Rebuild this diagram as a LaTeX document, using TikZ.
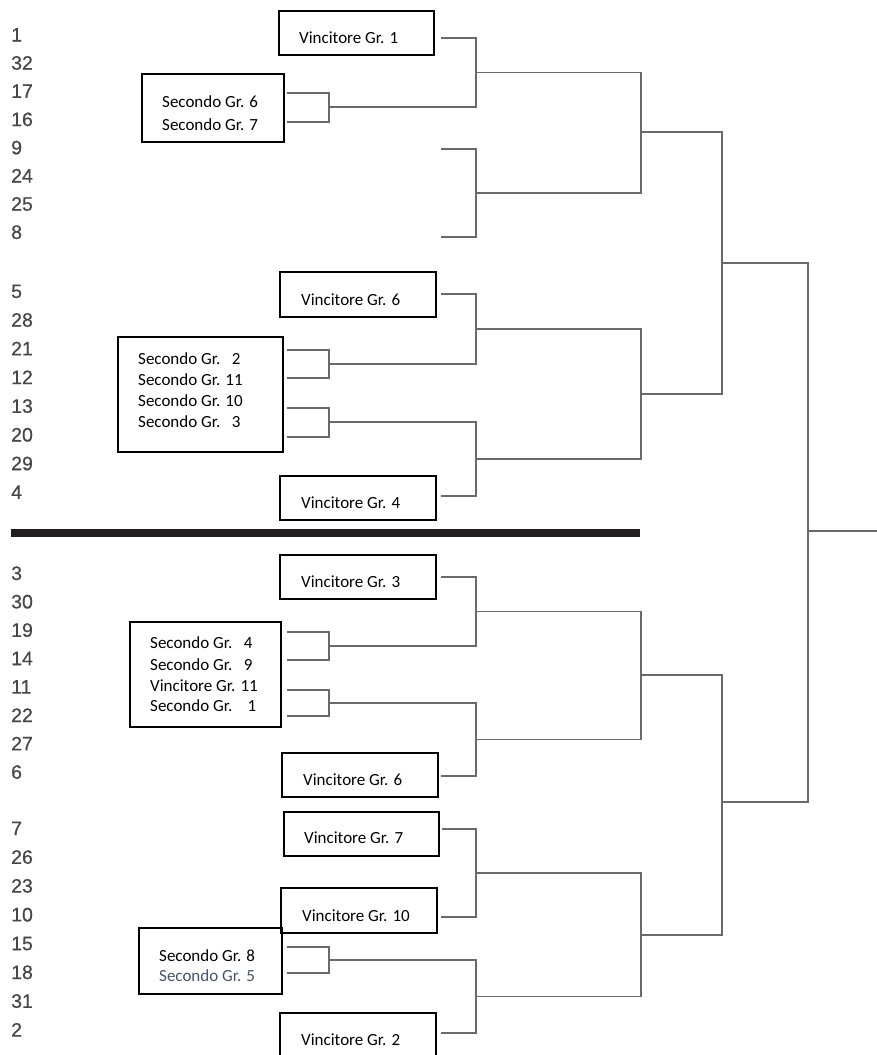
\documentclass[tikz,border=0pt]{standalone}
\usepackage{fontspec}
\setmainfont{Carlito}
\newfontfamily\numfont[FakeBold=0.6]{Liberation Sans}
\definecolor{numgray}{HTML}{474747}
\definecolor{linegray}{HTML}{6A6A6A}
\definecolor{barblack}{HTML}{231F20}
\definecolor{txtblue}{HTML}{44546A}
\begin{document}
\begin{tikzpicture}[x=1pt,y=-1pt,
  seed/.style={font=\numfont\fontsize{19.5}{20}\selectfont, text=numgray, anchor=base west, inner sep=0pt},
  lbl/.style={font=\fontsize{17}{17}\selectfont, anchor=base west, inner sep=0pt},
  bx/.style={draw=black, line width=1.1pt, inner sep=0pt, outer sep=0pt},
  br/.style={draw=linegray, line width=1.6pt},
  bar/.style={draw=barblack, line width=8pt}]
\useasboundingbox (0,0) rectangle (877,1055);

% ---------- seed numbers ----------
\foreach \n [count=\i from 0] in {1,32,17,16,9,24,25,8}
  \node[seed] (sa\i) at (11,{41.5+28.2*\i}) {\n};
\foreach \n [count=\i from 0] in {5,28,21,12,13,20,29,4}
  \node[seed] (sb\i) at (11,{298+28.7*\i}) {\n};
\foreach \n [count=\i from 0] in {3,30,19,14,11,22,27,6}
  \node[seed] (sc\i) at (11,{580+28.4*\i}) {\n};
\foreach \n [count=\i from 0] in {7,26,23,10,15,18,31,2}
  \node[seed] (sd\i) at (11,{835+28.8*\i}) {\n};

% ---------- boxes ----------
\node[bx, minimum width=155pt, minimum height=44pt] (bV1) at (356.5,33) {};
\node[bx, minimum width=142pt, minimum height=68pt] (bS67) at (213,108) {};
\node[bx, minimum width=156pt, minimum height=45pt] (bV6t) at (358,294.5) {};
\node[bx, minimum width=165pt, minimum height=115pt] (bS2) at (200.5,394.5) {};
\node[bx, minimum width=156pt, minimum height=44pt] (bV4) at (358,498) {};
\node[bx, minimum width=156pt, minimum height=44pt] (bV3) at (358,577) {};
\node[bx, minimum width=151pt, minimum height=105pt] (bS4) at (205.5,674.5) {};
\node[bx, minimum width=156pt, minimum height=44pt] (bV6b) at (360,775) {};
\node[bx, minimum width=155pt, minimum height=44pt] (bV7) at (361.5,834) {};
\node[bx, minimum width=156pt, minimum height=45pt] (bV10) at (359,910.5) {};
\node[bx, minimum width=143pt, minimum height=66pt] (bS8) at (210.5,961) {};
\node[bx, minimum width=156pt, minimum height=57pt] (bV2) at (358,1041.5) {};

% ---------- box texts ----------
\node[lbl] (tV1) at (299,43) {Vincitore Gr. 1};
\node[lbl] (tS6) at (162,107) {Secondo Gr. 6};
\node[lbl] (tS7) at (162,130) {Secondo Gr. 7};
\node[lbl] (tV6t) at (301,305) {Vincitore Gr. 6};
\node[lbl] (tS2) at (138,364) {Secondo Gr.~~~2};
\node[lbl] (tS11) at (138,385) {Secondo Gr. 11};
\node[lbl] (tS10) at (138,406) {Secondo Gr. 10};
\node[lbl] (tS3) at (138,427) {Secondo Gr.~~~3};
\node[lbl] (tV4) at (301,508) {Vincitore Gr. 4};
\node[lbl] (tV3) at (301,587) {Vincitore Gr. 3};
\node[lbl] (tS4) at (150,648.5) {Secondo Gr.~~~4};
\node[lbl] (tS9) at (150,670) {Secondo Gr.~~~9};
\node[lbl] (tV11) at (150,691) {Vincitore Gr. 11};
\node[lbl] (tS1) at (150,711.5) {Secondo Gr.~~~~1};
\node[lbl] (tV6b) at (303,785) {Vincitore Gr. 6};
\node[lbl] (tV7) at (304,843) {Vincitore Gr. 7};
\node[lbl] (tV10) at (302,921) {Vincitore Gr. 10};
\node[lbl] (tS8) at (159,961) {Secondo Gr. 8};
\node[lbl, text=txtblue] (tS5) at (159,981) {Secondo Gr. 5};
\node[lbl] (tV2) at (301,1045) {Vincitore Gr. 2};

% ---------- bracket coordinates ----------
\coordinate (p1) at (441,38);
\coordinate (p2) at (287,93);   \coordinate (p3) at (287,122);  \coordinate (q1) at (329,107);
\coordinate (m1) at (476,72.5);
\coordinate (p4) at (441,149);  \coordinate (p5) at (441,237);  \coordinate (m2) at (476,193);
\coordinate (n1) at (641,132);
\coordinate (p6) at (441,294);
\coordinate (p7) at (287,350);  \coordinate (p8) at (287,378);  \coordinate (q2) at (329,364);
\coordinate (m3) at (476,329);
\coordinate (p9) at (287,408);  \coordinate (p10) at (287,437); \coordinate (q3) at (329,422);
\coordinate (p11) at (441,496); \coordinate (m4) at (476,459);
\coordinate (n2) at (641,394);
\coordinate (s1) at (722,263);

\coordinate (p12) at (441,577);
\coordinate (p13) at (287,632); \coordinate (p14) at (287,660); \coordinate (q4) at (329,646);
\coordinate (m5) at (476,611.5);
\coordinate (p15) at (287,690); \coordinate (p16) at (287,716); \coordinate (q5) at (329,703);
\coordinate (p17) at (441,776); \coordinate (m6) at (476,739.5);
\coordinate (n3) at (641,675);
\coordinate (p18) at (442,829); \coordinate (p19) at (441,917); \coordinate (m7) at (476,873);
\coordinate (p20) at (287,947); \coordinate (p21) at (287,973); \coordinate (q6) at (329,960);
\coordinate (p22) at (441,1033); \coordinate (m8) at (476,996.5);
\coordinate (n4) at (641,935);
\coordinate (s2) at (722,802);
\coordinate (f) at (808,531);
\coordinate (fin) at (877,531);

% ---------- brackets ----------
\draw[br] (p2) -| (q1) |- (p3);
\draw[br] (p1) -| (m1) |- (q1);
\draw[br] (p4) -| (m2) |- (p5);
\draw[br] (m1) -| (n1) |- (m2);
\draw[br] (p7) -| (q2) |- (p8);
\draw[br] (p9) -| (q3) |- (p10);
\draw[br] (p6) -| (m3) |- (q2);
\draw[br] (q3) -| (m4) |- (p11);
\draw[br] (m3) -| (n2) |- (m4);
\draw[br] (n1) -| (s1) |- (n2);

\draw[br] (p13) -| (q4) |- (p14);
\draw[br] (p15) -| (q5) |- (p16);
\draw[br] (p12) -| (m5) |- (q4);
\draw[br] (q5) -| (m6) |- (p17);
\draw[br] (m5) -| (n3) |- (m6);
\draw[br] (p18) -| (m7) |- (p19);
\draw[br] (p20) -| (q6) |- (p21);
\draw[br] (q6) -| (m8) |- (p22);
\draw[br] (m7) -| (n4) |- (m8);
\draw[br] (n3) -| (s2) |- (n4);

\draw[br] (s1) -| (f) |- (s2);
\draw[br] (f) -- (fin);

% ---------- divider bar ----------
\coordinate (bar1) at (11,533);
\coordinate (bar2) at (640,533);
\draw[bar] (bar1) -- (bar2);
\end{tikzpicture}
\end{document}
